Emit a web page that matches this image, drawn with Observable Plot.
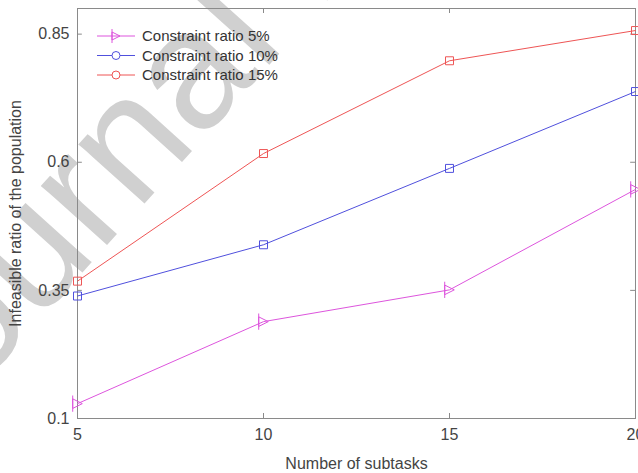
<!DOCTYPE html>
<html><head><meta charset="utf-8">
<script src="https://cdn.jsdelivr.net/npm/d3@7"></script>
<script src="https://cdn.jsdelivr.net/npm/@observablehq/plot@0.6"></script>
<style>
body{margin:0;background:#fff;}
#wrap{position:relative;width:638px;height:473px;overflow:hidden;font-family:"Liberation Sans",Arial,sans-serif;}
</style>
</head><body><div id="wrap"></div>
<script>
const subtasks = [5, 10, 15, 20];
const ratio5 = [0.129, 0.289, 0.351, 0.547];
const ratio10 = [0.339, 0.439, 0.588, 0.738];
const ratio15 = [0.368, 0.617, 0.798, 0.857];
const seriesNames = ["Constraint ratio 5%", "Constraint ratio 10%", "Constraint ratio 15%"];
const seriesColors = ["#dd55dd", "#5050dd", "#ee5555"];
const xTicks = [5, 10, 15, 20];
const yTicks = [0.1, 0.35, 0.6, 0.85];
const xLabel = "Number of subtasks";
const yLabel = "Infeasible ratio of the population";
const watermark = "Journal Pre-proof";

const W = 638, H = 473, mL = 77, mR = 3, mT = 8, mB = 55;
const innerH = H - mT - mB;

const triRight = {
  draw(ctx, size) {
    const r = Math.sqrt(size) * 0.6;
    ctx.moveTo(-r, -r); ctx.lineTo(r, 0); ctx.lineTo(-r, r); ctx.closePath();
    ctx.moveTo(-r, -1.7 * r); ctx.lineTo(-r, 1.7 * r);
  }
};
const symbols = [triRight, "square", "square"];

const allSeries = [ratio5, ratio10, ratio15];
const rows = [];
allSeries.forEach((vals, si) => vals.forEach((v, i) => rows.push({x: subtasks[i], y: v, s: si})));

const marks = [
  Plot.frame({stroke: "#8a8a8a", strokeWidth: 1}),
  Plot.ruleX(xTicks, {x: d => d, insetTop: innerH - 5, stroke: "#8a8a8a"}),
  Plot.ruleX(xTicks, {x: d => d, insetBottom: innerH - 5, stroke: "#8a8a8a"}),
  Plot.ruleY(yTicks, {y: d => d, x1: 5, x2: 5.13, stroke: "#8a8a8a"}),
  Plot.ruleY(yTicks, {y: d => d, x1: 19.87, x2: 20, stroke: "#8a8a8a"}),
  Plot.axisX({ticks: xTicks, tickSize: 0, tickPadding: 10, fontSize: 16, color: "#444",
    label: xLabel, labelAnchor: "center", labelOffset: 50, labelArrow: "none"}),
  Plot.axisY({ticks: yTicks, tickSize: 0, tickPadding: 8, fontSize: 16, color: "#444",
    tickFormat: d => String(d), label: yLabel, labelAnchor: "center", labelOffset: 68, labelArrow: "none"})
];
allSeries.forEach((vals, si) => {
  const data = rows.filter(r => r.s === si);
  marks.push(Plot.line(data, {x: "x", y: "y", stroke: seriesColors[si], strokeWidth: 1}));
  marks.push(Plot.dot(data, {x: "x", y: "y", stroke: seriesColors[si], fill: "none", symbol: () => symbols[si], r: 4.5, strokeWidth: 1}));
});

const chart = Plot.plot({
  width: W, height: H,
  marginLeft: mL, marginRight: mR, marginTop: mT, marginBottom: mB,
  style: {fontFamily: '"Liberation Sans", Arial, sans-serif', fontSize: "17px", color: "#333", background: "#fff", overflow: "hidden"},
  x: {domain: [5, 20]},
  y: {domain: [0.1, 0.9]},
  symbol: {type: "identity"},
  marks
});
document.getElementById("wrap").appendChild(chart);

const svg = d3.select(chart);
// watermark (behind marks)
svg.insert("text", ":first-child")
  .attr("transform", "translate(-82,455) rotate(-48)")
  .attr("font-size", 168)
  .attr("text-anchor", "start")
  .attr("font-family", '"Liberation Sans", Arial, sans-serif')
  .attr("fill", "#d0d0d0")
  .text(watermark);
svg.insert("rect", ":first-child").attr("width", W).attr("height", H).attr("fill", "#fff");

// legend
const lg = svg.append("g").attr("transform", "translate(97,36)");
seriesNames.forEach((name, i) => {
  const g = lg.append("g").attr("transform", `translate(0,${i * 19.5})`);
  g.append("line").attr("x1", 0).attr("x2", 38).attr("y1", 0).attr("y2", 0).attr("stroke", seriesColors[i]);
  if (i === 0) {
    g.append("path").attr("d", "M15,-4L23,0L15,4ZM15,-7L15,7").attr("fill", "none").attr("stroke", seriesColors[i]);
  } else {
    g.append("circle").attr("cx", 19).attr("r", 4).attr("fill", "#fff").attr("stroke", seriesColors[i]);
  }
  g.append("text").attr("x", 45).attr("dy", "0.35em").attr("font-size", 15)
    .attr("text-anchor", "start").attr("fill", "#333").text(name);
});
</script>
</body></html>
